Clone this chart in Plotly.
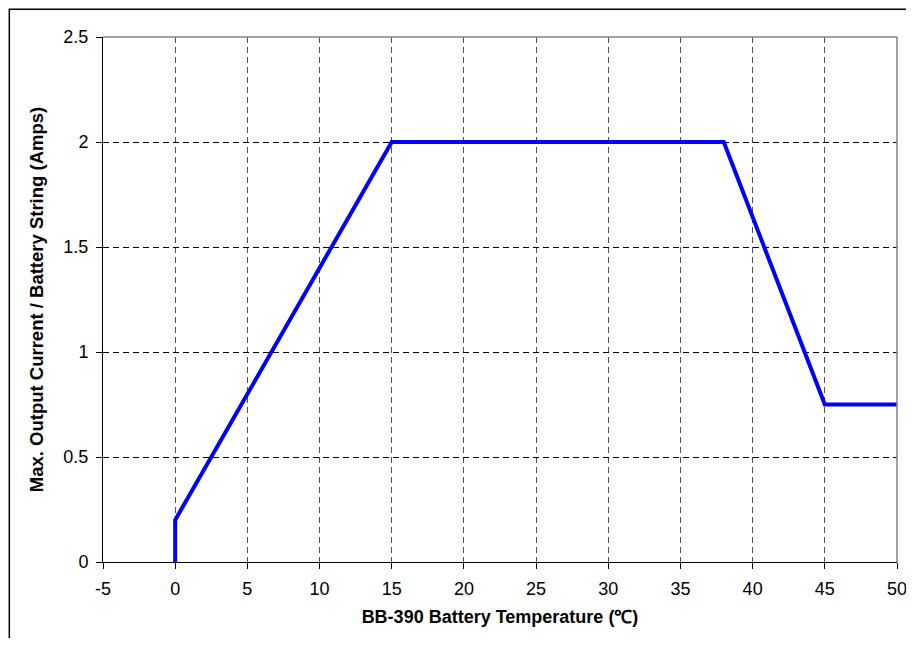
import plotly.graph_objects as go

temps = [0, 0, 15, 38, 45, 50]
currents = [0, 0.2, 2, 2, 0.75, 0.75]
x_ticks = [-5, 0, 5, 10, 15, 20, 25, 30, 35, 40, 45, 50]
y_ticks = [0, 0.5, 1, 1.5, 2, 2.5]
y_tick_text = ["0", "0.5", "1", "1.5", "2", "2.5"]

fig = go.Figure()
fig.add_trace(go.Scatter(x=temps, y=currents, mode="lines",
                         line=dict(color="#0000FF", width=4), showlegend=False))

# page body has an 8px margin; figure is sized/placed to compensate
fig.update_layout(
    width=906, height=630,
    margin=dict(l=95, r=17, t=29, b=76),
    paper_bgcolor="white", plot_bgcolor="white",
    font=dict(family="Liberation Sans, Arial, sans-serif", size=18, color="black"),
    xaxis=dict(range=[-5, 50], tickvals=x_ticks, ticktext=[str(v) for v in x_ticks],
               showgrid=True, gridcolor="#505050", griddash="6px,4px", gridwidth=1,
               showline=True, linecolor="black", linewidth=1, automargin=False,
               ticks="outside", ticklen=6, tickcolor="black", zeroline=False,
               tickfont=dict(size=18), ticklabelstandoff=4, ticklabeloverflow="allow",
               title=dict(text="<b>BB-390 Battery Temperature (℃)</b>", font=dict(size=18), standoff=12)),
    yaxis=dict(range=[0, 2.5], tickvals=y_ticks, ticktext=y_tick_text,
               showgrid=True, gridcolor="black", griddash="6px,4px", gridwidth=1,
               showline=True, linecolor="black", linewidth=1, automargin=False,
               ticks="outside", ticklen=6, tickcolor="black", zeroline=False,
               tickfont=dict(size=18), ticklabelstandoff=4, ticklabeloverflow="allow",
               title=dict(text="<b>Max. Output Current / Battery String (Amps)</b>", font=dict(size=18.5), standoff=14)),
    shapes=[
        dict(type="line", xref="paper", yref="paper", x0=0, x1=1, y0=1, y1=1,
             line=dict(color="#808080", width=1.5)),
        dict(type="line", xref="paper", yref="paper", x0=1, x1=1, y0=0, y1=1,
             line=dict(color="#808080", width=1.5)),
        dict(type="rect", xref="paper", yref="paper", x0=-0.118, x1=1.03, y0=-0.2, y1=1.053,
             line=dict(color="black", width=1.5), fillcolor="rgba(0,0,0,0)", layer="above"),
    ],
)
fig.write_html("out.html")
